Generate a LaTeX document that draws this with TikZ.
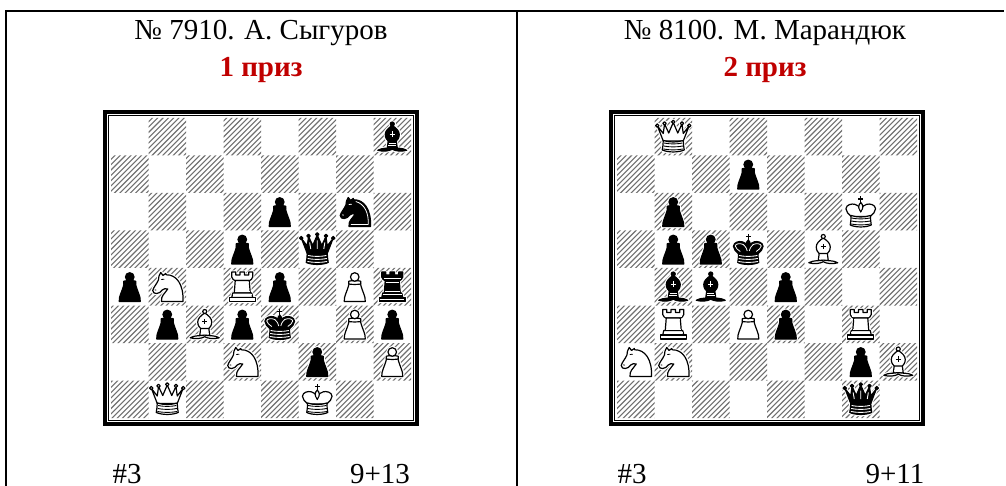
\documentclass[tikz,border=0pt]{standalone}
\usepackage{fontspec}
\setmainfont{Liberation Serif}
\definecolor{prize}{HTML}{C00000}
\definecolor{hatch}{HTML}{707070}
\def\pf{white}\def\pd{black}\def\pi{white}
\tikzset{
  halo/.style={draw=white,line width=3.4,line join=round},
  pc/.style={fill=\pf,draw=black,line width=1.2,line join=round},
  dt/.style={draw=\pd,line width=0.9},
  inn/.style={draw=\pi,line width=0.8},
  ttl/.style={font=\fontsize{29}{33}\selectfont,anchor=base,inner sep=0pt},
  btm/.style={font=\fontsize{29}{33}\selectfont,anchor=base,inner sep=0pt,text depth=0pt},
  prz/.style={font=\fontsize{29}{33}\selectfont\bfseries,text=prize,anchor=base,inner sep=0pt},
  rule/.style={line width=2,draw=black}
}
% pieces: x measured from centre of square, y from the top of the square
\newcommand{\Pawn}{%
  \def\Pa{(-10.5,33.5) .. controls (-11,28) and (-7.5,24) .. (-5.5,15) -- (5.5,15) .. controls (7.5,24) and (11,28) .. (10.5,33.5) -- cycle}%
  \def\Pb{(-6,13.2) .. controls (-3,12.4) and (3,12.4) .. (6,13.2) .. controls (6.6,14.6) and (6.6,15) .. (6,16) .. controls (3,16.6) and (-3,16.6) .. (-6,16) .. controls (-6.6,15) and (-6.6,14.6) .. (-6,13.2) -- cycle}%
  \def\Pc{(0,9) circle (4.3)}%
  \path[halo] \Pa \Pb \Pc;
  \path[pc] \Pa; \path[pc] \Pb; \path[pc] \Pc;
}
\newcommand{\Rook}{%
  \def\Pa{(-10.5,4) -- (-6.5,4) -- (-6.5,7) -- (-2.2,7) -- (-2.2,4) -- (2.2,4) -- (2.2,7) -- (6.5,7) -- (6.5,4) -- (10.5,4) -- (10.5,9) .. controls (10.5,11) and (8,12) .. (7.5,12.5) -- (-7.5,12.5) .. controls (-8,12) and (-10.5,11) .. (-10.5,9) -- cycle}%
  \def\Pb{(-7,12.5) -- (7,12.5) -- (8,25) -- (-8,25) -- cycle}%
  \def\Pc{(-9.5,25) -- (9.5,25) -- (10.5,29.5) -- (-10.5,29.5) -- cycle}%
  \def\Pd{(-13,29.5) -- (13,29.5) -- (13,33.5) -- (-13,33.5) -- cycle}%
  \path[halo] \Pa \Pb \Pc \Pd;
  \path[pc] \Pa; \path[pc] \Pb; \path[pc] \Pc; \path[pc] \Pd;
  \path[inn] (-8.5,10.4) -- (8.5,10.4) (-6.6,14) -- (6.6,14) (-7.4,23.6) -- (7.4,23.6) (-9.6,26.6) -- (9.6,26.6) (-11.8,31.4) -- (11.8,31.4);
}
\newcommand{\Bishop}{%
  \def\Pa{(-14.5,32.3) .. controls (-10,29.6) and (-5,30.6) .. (0,29.6) .. controls (5,30.6) and (10,29.6) .. (14.5,32.3) .. controls (9,33.9) and (3,33) .. (0,31.2) .. controls (-3,33) and (-9,33.9) .. (-14.5,32.3) -- cycle}%
  \def\Pb{(-4,22.5) -- (4,22.5) -- (5,30) -- (-5,30) -- cycle}%
  \def\Pc{(0,7.5) .. controls (-4,10) and (-7,13) .. (-7,16.5) .. controls (-7,20) and (-5,22.5) .. (-4,23) -- (4,23) .. controls (5,22.5) and (7,20) .. (7,16.5) .. controls (7,13) and (4,10) .. (0,7.5) -- cycle}%
  \def\Pd{(0,6) circle (2)}%
  \path[halo] \Pa \Pb \Pc \Pd;
  \path[pc] \Pb; \path[pc] \Pa; \path[pc] \Pc; \path[pc] \Pd;
  \path[dt] (-2.6,16) -- (2.6,16) (0,13.4) -- (0,18.6);
  \path[inn] (-3.6,25) -- (3.6,25) (-4,27.5) -- (4,27.5);
}
\newcommand{\Crownbase}{%
  \path[dt] (-9.2,25) .. controls (-4,26.2) and (4,26.2) .. (9.2,25)
            (-9.6,28) .. controls (-4,29.2) and (4,29.2) .. (9.6,28)
            (-9.8,31) .. controls (-4,32.2) and (4,32.2) .. (9.8,31);
}
\newcommand{\Queen}{%
  \def\Pa{(-10,23) -- (-15.8,8) -- (-10,15.5) -- (-8.7,6) -- (-4.5,15) -- (0,4.5) -- (4.5,15) -- (8.7,6) -- (10,15.5) -- (15.8,8) -- (10,23) -- cycle}%
  \def\Pb{(-10,22.5) .. controls (-4,24.5) and (4,24.5) .. (10,22.5) .. controls (10,26) and (10.5,29) .. (11,32) .. controls (5,34.6) and (-5,34.6) .. (-11,32) .. controls (-10.5,29) and (-10,26) .. (-10,22.5) -- cycle}%
  \def\Pc{(-16,7.6) circle (1.7) (-8.7,5.4) circle (1.7) (0,3.9) circle (1.7) (8.7,5.4) circle (1.7) (16,7.6) circle (1.7)}%
  \path[halo] \Pa \Pb \Pc;
  \path[pc] \Pa; \path[pc] \Pb; \path[pc] \Pc;
  \path[dt,draw=\pi] (-6.5,18.5) -- (-7.6,12) (0,18.5) -- (0,10) (6.5,18.5) -- (7.6,12);
  \Crownbase
}
\newcommand{\King}{%
  \def\Pa{(-9.5,23.5) .. controls (-12,20.5) and (-15,19.5) .. (-14.8,15.8) .. controls (-14.5,11.5) and (-9,10.5) .. (-6,11.3) .. controls (-3.5,12) and (-1.5,13.5) .. (0,16) .. controls (1.5,13.5) and (3.5,12) .. (6,11.3) .. controls (9,10.5) and (14.5,11.5) .. (14.8,15.8) .. controls (15,19.5) and (12,20.5) .. (9.5,23.5) -- cycle}%
  \def\Pb{(0,9.5) .. controls (-2.5,12) and (-3,15) .. (0,19) .. controls (3,15) and (2.5,12) .. (0,9.5) -- cycle}%
  \def\Pc{(-9.7,22.5) .. controls (-4,24.5) and (4,24.5) .. (9.7,22.5) .. controls (9.7,26) and (10,29) .. (10.5,32) .. controls (5,34.6) and (-5,34.6) .. (-10.5,32) .. controls (-10,29) and (-9.7,26) .. (-9.7,22.5) -- cycle}%
  \path[halo] \Pa \Pb \Pc (0,4) -- (0,9) (-2.5,6) -- (2.5,6);
  \path[pc] \Pa; \path[pc] \Pb; \path[pc] \Pc;
  \path[draw=black,line width=1.1] (0,3.5) -- (0,9.5) (-2.5,6) -- (2.5,6);
  \path[inn] (-8,21) .. controls (-10,19) and (-13,18) .. (-13,15.5) .. controls (-12.8,13) and (-8,12.6) .. (-5,14) .. controls (-3.5,15) and (-2,17) .. (-1,20.5) (8,21) .. controls (10,19) and (13,18) .. (13,15.5) .. controls (12.8,13) and (8,12.6) .. (5,14) .. controls (3.5,15) and (2,17) .. (1,20.5);
  \Crownbase
}
\newcommand{\Knight}{%
  \def\Pa{(15.75,33.5) -- (-5.75,33.5) .. controls (-6.5,28) and (-2.5,25.5) .. (0.5,21) .. controls (-1.5,20.5) and (-3.5,20.5) .. (-5,22) .. controls (-6.5,24) and (-8.5,25.5) .. (-10.5,25.5) .. controls (-12.5,26) and (-14.5,24.5) .. (-14.5,22.5) .. controls (-14,19.5) and (-10.5,16) .. (-8.8,12) .. controls (-8.8,9.5) and (-8.3,7) .. (-6.5,4.5) -- (-4.2,7.5) -- (-1.5,5.5) -- (-1,6.8) .. controls (9,6.5) and (16.5,16) .. (15.75,33.5) -- cycle}%
  \path[halo] \Pa;
  \path[pc] \Pa;
  \path[dt,line width=0.8] (-6,11.5) .. controls (-5,10.8) and (-4,10.8) .. (-3,11.2);
  \path[dt,line width=0.8] (-12.5,21.8) -- (-11,22.2);
  \path[inn] (13.5,31.5) .. controls (14,20) and (10,11) .. (1,8.5) (-4,31.5) -- (13.5,31.5);
}
\newcommand{\Put}[4]{%
  \begin{scope}[shift={({\bx+18.75+37.5*#1},{118+37.5*#2})}]
    \if#4w\def\pf{white}\def\pd{black}\def\pi{white}\else\def\pf{black}\def\pd{white}\def\pi{white}\fi
    #3
  \end{scope}}
\newcommand{\Board}[1]{%
  \def\bx{#1}%
  \begin{scope}
    \clip \foreach \r in {0,...,7} { \foreach \c in {0,...,7} {
        \ifodd\numexpr\r+\c\relax ({#1+37.5*\c},{118+37.5*\r}) rectangle ++(37.5,37.5) \fi } };
    \foreach \k in {0,...,125}
      \draw[hatch,line width=1.1] ({#1-305+5.3*\k},422) -- ++(310,-310);
  \end{scope}
  \draw[line width=4] ({#1-5.6},{118-5.6}) rectangle ({#1+305.6},{418+5.6});
  \draw[line width=1] ({#1-2.2},{118-2.2}) rectangle ({#1+302.2},{418+2.2});
}
\begin{document}
\begin{tikzpicture}[x=1pt,y=-1pt]
\useasboundingbox (0,0) rectangle (1006,486);
\fill[white] (0,0) rectangle (1006,486);
\coordinate (tl) at (5,11); \coordinate (tr) at (1004,11);
\coordinate (bl) at (6,486); \coordinate (bm) at (517,486); \coordinate (tm) at (517,11);
\draw[rule] (tl) -- (tr);
\draw[rule] (6,11) -- (bl);
\draw[rule] (tm) -- (bm);
\node[ttl] (t1) at (261,40) {№ 7910. А. Сыгуров};
\node[prz] (p1) at (261,77) {1 приз};
\node[ttl] (t2) at (765,40) {№ 8100. М. Марандюк};
\node[prz] (p2) at (765,77) {2 приз};
\node[btm] (s1) at (127,483) {\#3};
\node[btm] (n1) at (380,483) {9+13};
\node[btm] (s2) at (632,483) {\#3};
\node[btm] (n2) at (895,483) {9+11};
\Board{111}
\Put{7}{0}{\Bishop}{b}
\Put{4}{2}{\Pawn}{b}\Put{6}{2}{\Knight}{b}
\Put{3}{3}{\Pawn}{b}\Put{5}{3}{\Queen}{b}
\Put{0}{4}{\Pawn}{b}\Put{1}{4}{\Knight}{w}\Put{3}{4}{\Rook}{w}\Put{4}{4}{\Pawn}{b}\Put{6}{4}{\Pawn}{w}\Put{7}{4}{\Rook}{b}
\Put{1}{5}{\Pawn}{b}\Put{2}{5}{\Bishop}{w}\Put{3}{5}{\Pawn}{b}\Put{4}{5}{\King}{b}\Put{6}{5}{\Pawn}{w}\Put{7}{5}{\Pawn}{b}
\Put{3}{6}{\Knight}{w}\Put{5}{6}{\Pawn}{b}\Put{7}{6}{\Pawn}{w}
\Put{1}{7}{\Queen}{w}\Put{5}{7}{\King}{w}
\Board{617}
\Put{1}{0}{\Queen}{w}
\Put{3}{1}{\Pawn}{b}
\Put{1}{2}{\Pawn}{b}\Put{6}{2}{\King}{w}
\Put{1}{3}{\Pawn}{b}\Put{2}{3}{\Pawn}{b}\Put{3}{3}{\King}{b}\Put{5}{3}{\Bishop}{w}
\Put{1}{4}{\Bishop}{b}\Put{2}{4}{\Bishop}{b}\Put{4}{4}{\Pawn}{b}
\Put{1}{5}{\Rook}{w}\Put{3}{5}{\Pawn}{w}\Put{4}{5}{\Pawn}{b}\Put{6}{5}{\Rook}{w}
\Put{0}{6}{\Knight}{w}\Put{1}{6}{\Knight}{w}\Put{6}{6}{\Pawn}{b}\Put{7}{6}{\Bishop}{w}
\Put{6}{7}{\Queen}{b}
\end{tikzpicture}
\end{document}
